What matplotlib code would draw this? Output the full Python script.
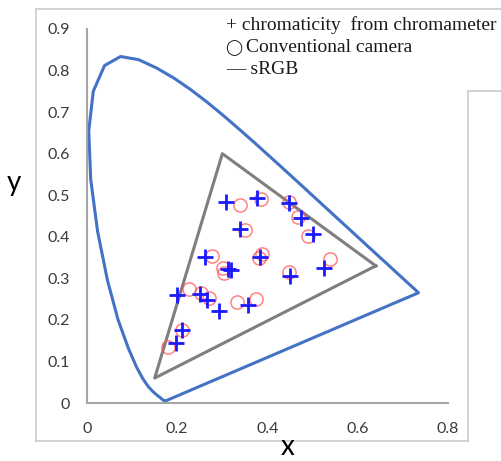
import matplotlib
matplotlib.use("Agg")
import matplotlib.pyplot as plt
from matplotlib.lines import Line2D

# CIE 1931 spectral locus (380-700 nm)
locus_x = [0.1741, 0.1740, 0.1738, 0.1736, 0.1733, 0.1730, 0.1726, 0.1721, 0.1714, 0.1703,
           0.1689, 0.1669, 0.1644, 0.1611, 0.1566, 0.1510, 0.1440, 0.1355, 0.1241, 0.1096,
           0.0913, 0.0687, 0.0454, 0.0235, 0.0082, 0.0039, 0.0139, 0.0389, 0.0743, 0.1142,
           0.1547, 0.1929, 0.2296, 0.2658, 0.3016, 0.3373, 0.3731, 0.4087, 0.4441, 0.4788,
           0.5125, 0.5448, 0.5752, 0.6029, 0.6270, 0.6482, 0.6658, 0.6801, 0.6915, 0.7006,
           0.7079, 0.7140, 0.7190, 0.7230, 0.7260, 0.7283, 0.7300, 0.7320, 0.7334, 0.7347]
locus_y = [0.0050, 0.0050, 0.0049, 0.0049, 0.0048, 0.0048, 0.0048, 0.0048, 0.0051, 0.0058,
           0.0069, 0.0086, 0.0109, 0.0138, 0.0177, 0.0227, 0.0297, 0.0399, 0.0578, 0.0868,
           0.1327, 0.2007, 0.2950, 0.4127, 0.5384, 0.6548, 0.7502, 0.8120, 0.8338, 0.8262,
           0.8059, 0.7816, 0.7543, 0.7243, 0.6923, 0.6589, 0.6245, 0.5896, 0.5547, 0.5202,
           0.4866, 0.4544, 0.4242, 0.3965, 0.3725, 0.3514, 0.3340, 0.3197, 0.3083, 0.2993,
           0.2920, 0.2859, 0.2809, 0.2770, 0.2740, 0.2717, 0.2700, 0.2680, 0.2666, 0.2653]

# sRGB primaries
srgb_x = [0.64, 0.30, 0.15, 0.64]
srgb_y = [0.33, 0.60, 0.06, 0.33]

# chromameter measurements (+)
meter_x = [0.308, 0.376, 0.448, 0.474, 0.501, 0.339, 0.261, 0.383, 0.312, 0.319,
           0.450, 0.526, 0.199, 0.250, 0.267, 0.293, 0.357, 0.210, 0.197]
meter_y = [0.484, 0.493, 0.481, 0.446, 0.406, 0.418, 0.351, 0.351, 0.322, 0.320,
           0.306, 0.324, 0.260, 0.262, 0.248, 0.221, 0.236, 0.176, 0.145]

# conventional camera (o)
cam_x = [0.338, 0.385, 0.448, 0.468, 0.490, 0.351, 0.278, 0.387, 0.381, 0.301,
         0.304, 0.448, 0.538, 0.226, 0.253, 0.271, 0.332, 0.375, 0.211, 0.179]
cam_y = [0.476, 0.490, 0.484, 0.448, 0.403, 0.416, 0.354, 0.358, 0.349, 0.325,
         0.313, 0.316, 0.346, 0.274, 0.265, 0.253, 0.244, 0.250, 0.176, 0.135]

W, H = 501, 461
fig = plt.figure(figsize=(W / 100, H / 100), dpi=100)
ax = fig.add_axes([87 / W, (H - 403) / H, 361 / W, 374 / H])

ax.plot(locus_x + locus_x[:1], locus_y + locus_y[:1], color="#4472C4", lw=2.2)
ax.plot(srgb_x, srgb_y, color="#7f7f7f", lw=2.2)
ax.plot(cam_x, cam_y, "o", ms=9.5, mfc="none", mec="#ff4d4d", mew=1.1, alpha=0.7)
ax.plot(meter_x, meter_y, "+", ms=11, color="#1a1aff", mew=2)

ax.set_xlim(0, 0.8)
ax.set_ylim(0, 0.9)
ax.set_xticks([0, 0.2, 0.4, 0.6, 0.8])
ax.set_xticklabels(["0", "0.2", "0.4", "0.6", "0.8"])
ax.set_yticks([i / 10 for i in range(10)])
ax.set_yticklabels(["0"] + ["0.%d" % i for i in range(1, 10)])
for s in ["top", "right"]:
    ax.spines[s].set_visible(False)
for s in ["left", "bottom"]:
    ax.spines[s].set_color("#a6a6a6")
    ax.spines[s].set_linewidth(1.5)
ax.tick_params(length=0, labelsize=11.5, labelcolor="#3a3a3a")
ax.tick_params(axis="x", pad=14)
ax.tick_params(axis="y", pad=12)
for lab in ax.get_xticklabels() + ax.get_yticklabels():
    lab.set_family("Lato")

fig.text(14 / W, 1 - 183 / H, "y", fontsize=20, ha="center", va="center", family="Lato")
fig.text(288 / W, 1 - 460 / H, "x", fontsize=20, ha="center", va="bottom", family="Lato")

# chart frame
def frame(xs, ys):
    fig.add_artist(Line2D([x / W for x in xs], [1 - y / H for y in ys],
                          color="#cccccc", lw=1.2, transform=fig.transFigure))

frame([36, 501], [9, 9])
frame([36, 36], [9, 441])
frame([36, 468], [441, 441])
frame([468, 468], [91, 441])
frame([468, 501], [91, 91])

# legend text
fams = ["Liberation Serif", "DejaVu Serif"]
fig.text(226 / W, 1 - 25 / H, "+ chromaticity  from chromameter", fontsize=14,
         va="center", family=fams, color="#1a1a1a")
fig.text(225 / W, 1 - 48 / H, "\u25ef", fontsize=11, va="center",
         family=["DejaVu Sans"], color="#1a1a1a")
fig.text(246 / W, 1 - 48 / H, "Conventional camera", fontsize=14,
         va="center", family=fams, color="#1a1a1a")
fig.text(226 / W, 1 - 70 / H, "\u2014 sRGB", fontsize=14, va="center",
         family=fams, color="#1a1a1a")

fig.savefig("out.png", dpi=100)
